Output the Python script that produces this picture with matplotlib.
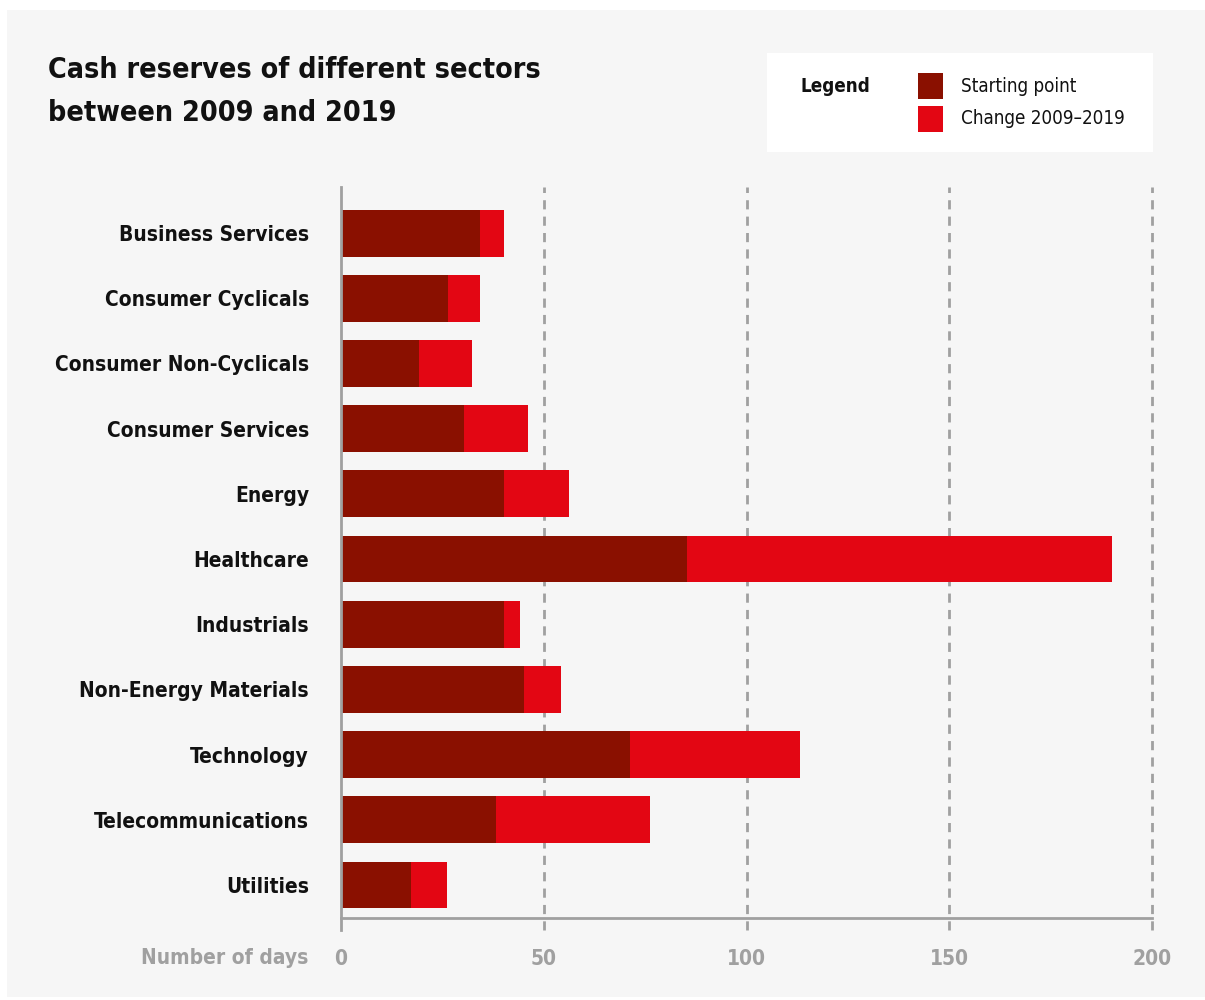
#!/usr/bin/env python3
"""Cash reserves of different sectors, 2009 vs 2019 (stacked horizontal bars)."""

import matplotlib.pyplot as plt
from matplotlib.patches import Rectangle
from matplotlib import font_manager

# --- Data ---

sectors = [
    "Business Services",
    "Consumer Cyclicals",
    "Consumer Non-Cyclicals",
    "Consumer Services",
    "Energy",
    "Healthcare",
    "Industrials",
    "Non-Energy Materials",
    "Technology",
    "Telecommunications",
    "Utilities",
]
starting_point = [34.3, 26.3, 19.2, 30.3, 40.2, 85.3, 40.2, 45.1, 71.3, 38.2, 17.3]
change = [5.9, 8.0, 13.1, 15.8, 16.0, 104.8, 3.9, 9.2, 41.9, 38.0, 8.8]
xticks = [0, 50, 100, 150, 200]

DARK = "#8a1000"
RED = "#e30613"
BG = "#f6f6f6"
GRAY = "#a0a0a0"

names = {f.name for f in font_manager.fontManager.ttflist}
FONT = ["Liberation Sans Narrow", "DejaVu Sans"] if "Liberation Sans Narrow" in names \
    else ["DejaVu Sans"]
plt.rcParams["font.family"] = FONT
if FONT[0] == "DejaVu Sans":
    plt.rcParams["font.stretch"] = "condensed"

W, H = 1205, 1000
fig = plt.figure(figsize=(W / 100, H / 100), dpi=100)
fig.patch.set_facecolor("white")
fig.patches.append(Rectangle((7 / W, 3 / H), (W - 7) / W, (H - 13) / H,
                             transform=fig.transFigure, facecolor=BG,
                             edgecolor="none", zorder=-10))

ax = fig.add_axes([341 / W, 82 / H, (1152 - 341) / W, (918 - 187) / H])
ax.set_facecolor("none")

y = list(range(len(sectors)))
ax.barh(y, starting_point, height=0.72, color=DARK, zorder=3)
ax.barh(y, change, left=starting_point, height=0.72, color=RED, zorder=3)

ax.set_xlim(0, 200)
ax.set_ylim(10.506, -0.706)

for x in xticks:
    if x == 0:
        ax.axvline(x, ymin=-0.017, ymax=1, color=GRAY, lw=2, clip_on=False, zorder=4)
    else:
        ax.axvline(x, ymin=-0.017, ymax=1, color=GRAY, lw=2, clip_on=False,
                   dashes=(3.3, 2.6), zorder=1)

for s in ["top", "right", "left"]:
    ax.spines[s].set_visible(False)
ax.spines["bottom"].set_color(GRAY)
ax.spines["bottom"].set_linewidth(2)

ax.set_xticks(xticks)
ax.set_xticklabels([str(v) for v in xticks], color=GRAY, fontsize=15, fontweight="bold")
ax.tick_params(axis="x", length=0, pad=22)
ax.set_yticks(y)
ax.set_yticklabels(sectors, fontsize=15, fontweight="bold", color="#111111")
ax.tick_params(axis="y", length=0, pad=23)

fig.text(308 / W, 1 - 958 / H, "Number of days", ha="right", va="center",
         color=GRAY, fontsize=15, fontweight="bold")

fig.text(48 / W, 1 - 70 / H, "Cash reserves of different sectors", ha="left", va="center",
         fontsize=20.5, fontweight="bold", color="#111111")
fig.text(48 / W, 1 - 113 / H, "between 2009 and 2019", ha="left", va="center",
         fontsize=20.5, fontweight="bold", color="#111111")

# legend box
fig.patches.append(Rectangle((767 / W, 1 - 152 / H), (1153 - 767) / W, (152 - 53) / H,
                             transform=fig.transFigure, facecolor="white",
                             edgecolor="none", zorder=-5))
fig.text(801 / W, 1 - 87 / H, "Legend", ha="left", va="center",
         fontsize=13.5, fontweight="bold", color="#111111")
for label, color, yc in [("Starting point", DARK, 86), ("Change 2009\u20132019", RED, 119)]:
    fig.patches.append(Rectangle((918 / W, 1 - (yc + 12.5) / H), 25 / W, 25 / H,
                                 transform=fig.transFigure, facecolor=color,
                                 edgecolor="none"))
    fig.text(961 / W, 1 - yc / H, label, ha="left", va="center",
             fontsize=13.5, color="#111111")

plt.savefig("out.png", dpi=100, facecolor=fig.get_facecolor())
plt.close()
